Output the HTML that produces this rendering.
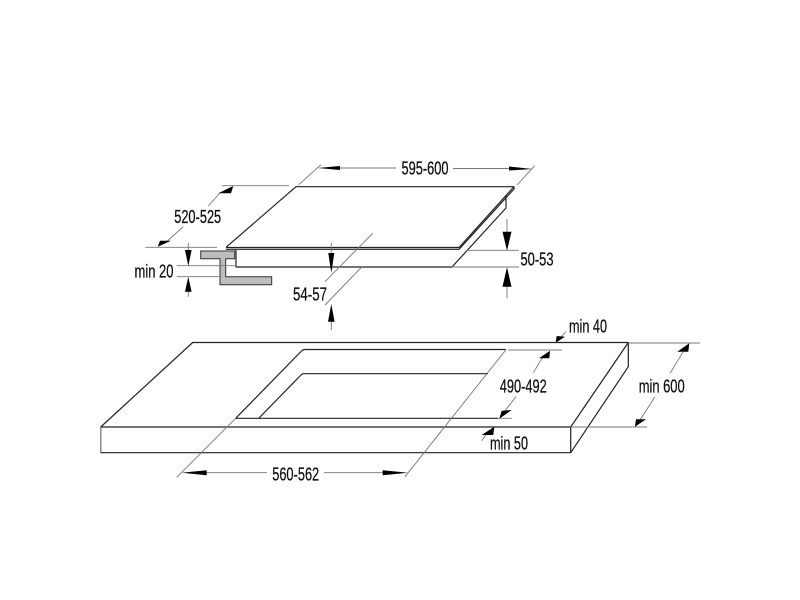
<!DOCTYPE html>
<html>
<head>
<meta charset="utf-8">
<style>
html,body{margin:0;padding:0;background:#fff;width:800px;height:600px;overflow:hidden}
svg{display:block}
text{font-family:"Liberation Sans",Arial,sans-serif;font-size:18.5px;fill:#111;stroke:#111;stroke-width:.25;text-anchor:middle;dominant-baseline:central}
.o{fill:none;stroke:#222;stroke-width:1.2;stroke-linejoin:round}
.t{fill:none;stroke:#777;stroke-width:.9}
.a{fill:#000;stroke:none}
</style>
</head>
<body>
<svg width="800" height="600" viewBox="0 0 800 600" xmlns="http://www.w3.org/2000/svg">
<defs><filter id="b" x="0" y="0" width="100%" height="100%"><feGaussianBlur stdDeviation="0.35"/></filter></defs>
<g filter="url(#b)">
<!-- Hob -->
<path class="o" d="M226 247.3L296 186.7H514L459 247.5H226"/>
<path class="o" d="M226 249.3H459L514 189V187" stroke-width=".9"/>
<path class="o" d="M236 250V267H452L506 208V196"/>
<!-- Bracket -->
<path d="M200.7 251H234.7V258.7H225.7V276.7H271.7V284.7H220V258.7H200.7Z" fill="#bdbdbd" stroke="#333" stroke-width="1"/>

<!-- Worktop -->
<path class="o" d="M100.7 427L192.7 342.5H628.3L570.7 427H100.7V452.7H570.7V427"/>
<path class="o" d="M570.7 452.7L628.3 366.7V343"/>
<path class="o" d="M235.7 418.3L302 350.5Q303 349.5 305 349.5H506"/>
<path class="o" d="M235.7 418.3H498"/>
<path class="o" d="M259 418L301 375Q302 373.7 304 373.7H488"/>

<!-- Thin dimension lines -->
<g class="t">
<path d="M298.7 184.7L321 164.7M517 185L534.7 165.7M340 168H396M453 168.5H510"/>
<path d="M221.7 185.7H289M145.3 247.3H217M208.3 206L220 193M183.3 226.7L165 243"/>
<path d="M188.3 243V250M188.3 291V296.7M176.7 265.7H236M176.7 276.7H220"/>
<path d="M331.3 243V253M331.3 320V330M325 281.7L372.7 233.3M325 305L362 266.7"/>
<path d="M507 219V232M507 286V298.3M466.7 250.3H519M452 267H519"/>
<path d="M176.7 477.3L235.7 418.3M206 472.7H267M324 472.7H383"/>
<path d="M506 349.7L405 476.7"/>
<path d="M508 350H561.7M498 418.3H511.7M533.3 372.7L543 356.7M516 396.7L505 410.7"/>
<path d="M628 343H700M570.7 427H647M670 373.3L683.3 351.7M655 396.7L640 420"/>
<path d="M566 331.7L560 338M481.7 440.7L486.7 434"/>
</g>

<!-- Arrowheads -->
<g class="a">
<polygon points="317.7,168 340,166 340,170"/>
<polygon points="532.7,169 509,166.5 509,170.5"/>
<polygon points="233.3,186 218.3,193.3 231,193.3"/>
<polygon points="157.7,246.7 160,240.7 171,240.7"/>
<polygon points="188.3,266 185,250 191.6,250"/>
<polygon points="188.3,276.7 185,291.7 191.6,291.7"/>
<polygon points="331.3,273 328.3,253 334.3,253"/>
<polygon points="331.3,304 328,321.7 334.6,321.7"/>
<polygon points="507,250.7 502.5,231.7 511.5,231.7"/>
<polygon points="507,267.3 502.5,286.7 511.5,286.7"/>
<polygon points="181.7,472.7 206.7,470.2 206.7,475.2"/>
<polygon points="408,472.7 382.7,470.2 382.7,475.2"/>
<polygon points="555.7,342.7 556.7,336 565,336.7"/>
<polygon points="550,350.7 539,358.3 549.3,358.3"/>
<polygon points="499.3,418.7 501.7,410.7 511.7,410"/>
<polygon points="689.3,343.3 677.3,351.7 688.3,351.7"/>
<polygon points="635,426.7 636,419.3 646,419.3"/>
<polygon points="494.3,426.7 481.7,435 493.3,435"/>
</g>

<!-- Labels -->
<text x="425" y="168" textLength="47" lengthAdjust="spacingAndGlyphs">595-600</text>
<text x="197.7" y="216.7" textLength="47" lengthAdjust="spacingAndGlyphs">520-525</text>
<text x="154" y="271" textLength="39" lengthAdjust="spacingAndGlyphs">min 20</text>
<text x="310" y="294" textLength="34" lengthAdjust="spacingAndGlyphs">54-57</text>
<text x="537" y="259" textLength="33" lengthAdjust="spacingAndGlyphs">50-53</text>
<text x="295.7" y="474" textLength="47" lengthAdjust="spacingAndGlyphs">560-562</text>
<text x="588" y="326" textLength="38" lengthAdjust="spacingAndGlyphs">min 40</text>
<text x="523.3" y="386" textLength="47" lengthAdjust="spacingAndGlyphs">490-492</text>
<text x="661.7" y="386" textLength="46" lengthAdjust="spacingAndGlyphs">min 600</text>
<text x="509" y="443" textLength="38" lengthAdjust="spacingAndGlyphs">min 50</text>
</g>
</svg>
</body>
</html>
